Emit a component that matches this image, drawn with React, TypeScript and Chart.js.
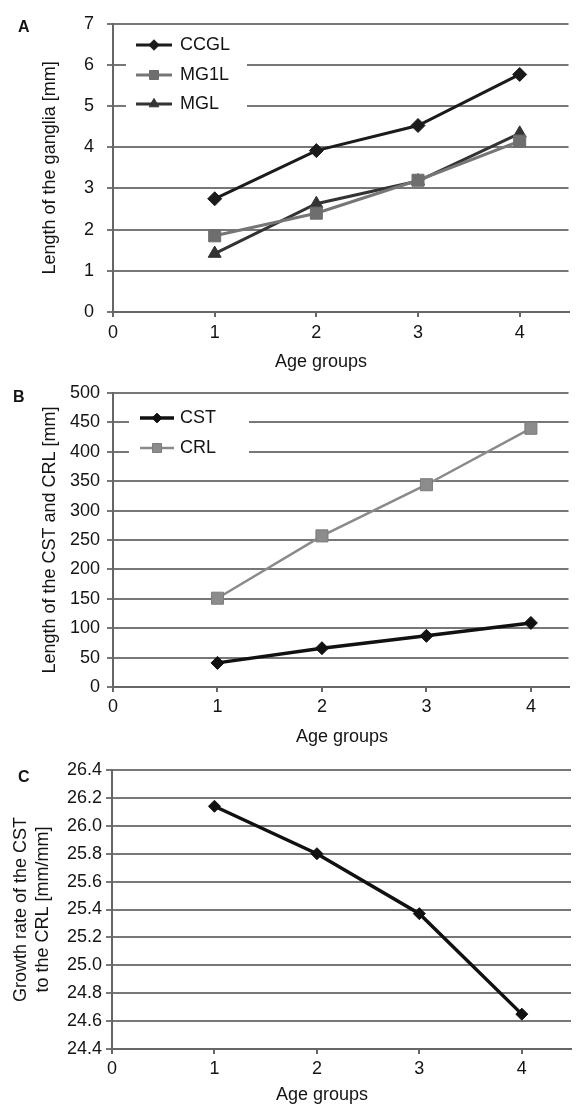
import React, { useEffect, useRef } from 'react';
import { Chart, registerables } from 'chart.js';
import { drawPoint } from 'chart.js/helpers';

Chart.register(...registerables);

// ---------- data ----------
const ageGroups = [1, 2, 3, 4];
const xTickValues = [0, 1, 2, 3, 4];
const xTitleText = 'Age groups';

// Panel A
const ccgl = [2.75, 3.92, 4.53, 5.77];
const mg1l = [1.85, 2.4, 3.2, 4.15];
const mgl = [1.42, 2.63, 3.18, 4.34];
const yTicksA = [0, 1, 2, 3, 4, 5, 6, 7];
const yTitleA = 'Length of the ganglia [mm]';

// Panel B
const cst = [41, 66, 87, 109];
const crl = [151, 257, 344, 440];
const yTicksB = [0, 50, 100, 150, 200, 250, 300, 350, 400, 450, 500];
const yTitleB = 'Length of the CST and CRL [mm]';

// Panel C
const growth = [26.14, 25.8, 25.37, 24.65];
const yTicksC = [24.4, 24.6, 24.8, 25.0, 25.2, 25.4, 25.6, 25.8, 26.0, 26.2, 26.4];
const yTitleC = ['Growth rate of the CST', 'to the CRL [mm/mm]'];

// ---------- styling ----------
const FONT = '"Liberation Sans Narrow", "Arial Narrow", "Liberation Sans", Arial, sans-serif';
const TICK_SIZE = 18;
const TITLE_SIZE = 18;
const TEXT = '#141414';
const GRID = '#777777';
const AXIS = '#666666';

const pts = (ys: number[]) => ageGroups.map((x, i) => ({ x, y: ys[i] }));

const extrasPlugin = {
  id: 'extras',
  afterDatasetsDraw(chart: any, _args: any, opts: any) {
    const ctx = chart.ctx as CanvasRenderingContext2D;
    ctx.save();
    if (opts.legend) {
      const L = opts.legend;
      ctx.fillStyle = '#ffffff';
      ctx.fillRect(L.x, L.y, L.w, L.h);
      chart.data.datasets.forEach((ds: any, i: number) => {
        const y = L.rows[i];
        ctx.strokeStyle = ds.borderColor;
        ctx.lineWidth = ds.borderWidth;
        ctx.beginPath();
        ctx.moveTo(L.lineX0, y);
        ctx.lineTo(L.lineX1, y);
        ctx.stroke();
        ctx.fillStyle = ds.pointBackgroundColor;
        ctx.strokeStyle = ds.pointBorderColor;
        ctx.lineWidth = 1;
        drawPoint(ctx, { pointStyle: ds.pointStyle, radius: ds.pointRadius * L.markerScale, rotation: 0, borderWidth: 1 } as any, (L.lineX0 + L.lineX1) / 2, y);
        ctx.fillStyle = TEXT;
        ctx.font = `${TITLE_SIZE}px ${FONT}`;
        ctx.textAlign = 'left';
        ctx.textBaseline = 'middle';
        ctx.fillText(ds.label, L.textX, y);
      });
    }
    if (opts.xTitle) {
      ctx.fillStyle = TEXT;
      ctx.font = `${TITLE_SIZE}px ${FONT}`;
      ctx.textAlign = 'center';
      ctx.textBaseline = 'middle';
      ctx.fillText(opts.xTitle.text, opts.xTitle.x, opts.xTitle.y);
    }
    if (opts.letter) {
      ctx.fillStyle = TEXT;
      ctx.font = `bold 16px "Liberation Sans", Arial, sans-serif`;
      ctx.textAlign = 'left';
      ctx.textBaseline = 'alphabetic';
      ctx.fillText(opts.letter.text, opts.letter.x, opts.letter.y);
    }
    ctx.restore();
  },
};

function makeConfig(p: any): any {
  return {
    type: 'line',
    data: { datasets: p.datasets },
    options: {
      responsive: false,
      animation: false,
      devicePixelRatio: 1,
      events: [],
      layout: { padding: { top: p.padTop, left: 0, right: 0, bottom: 0 } },
      plugins: { legend: { display: false }, tooltip: { enabled: false }, extras: p.extras },
      scales: {
        x: {
          type: 'linear',
          min: 0,
          max: p.xMax,
          afterBuildTicks: (s: any) => { s.ticks = xTickValues.map((v) => ({ value: v })); },
          afterFit: (s: any) => { s.height = p.xHeight; },
          ticks: { font: { family: FONT, size: TICK_SIZE }, color: TEXT, padding: p.xTickPad, maxRotation: 0, autoSkip: false, callback: (v: any) => String(v) },
          grid: { drawOnChartArea: false, drawTicks: true, tickLength: 5, color: AXIS, lineWidth: 2 },
          border: { display: true, color: AXIS, width: 2 },
        },
        y: {
          type: 'linear',
          min: p.yTicks[0],
          max: p.yTicks[p.yTicks.length - 1],
          afterBuildTicks: (s: any) => { s.ticks = p.yTicks.map((v: number) => ({ value: v })); },
          afterFit: (s: any) => { s.width = p.yWidth; },
          ticks: { font: { family: FONT, size: TICK_SIZE }, color: TEXT, padding: p.yTickPad, autoSkip: false, callback: p.yFmt },
          grid: { color: GRID, lineWidth: 2, drawTicks: true, tickLength: 6 },
          border: { display: true, color: AXIS, width: 2 },
          title: {
            display: true,
            text: p.yTitle,
            color: TEXT,
            font: { family: FONT, size: TITLE_SIZE, lineHeight: p.yTitleLH },
            padding: { top: p.yTitlePad, bottom: 0 },
          },
        },
      },
    },
    plugins: [extrasPlugin],
  };
}

const W = 578;
const TOP_A = 0, H_A = 375;
const TOP_B = 375, H_B = 375;
const TOP_C = 750, H_C = 356;

export default function App() {
  const refA = useRef<HTMLCanvasElement>(null);
  const refB = useRef<HTMLCanvasElement>(null);
  const refC = useRef<HTMLCanvasElement>(null);

  useEffect(() => {
    const cfgA = makeConfig({
      datasets: [
        { label: 'CCGL', data: pts(ccgl), borderColor: '#1b1b1b', borderWidth: 3, pointStyle: 'rectRot', pointRadius: 7, pointBackgroundColor: '#1b1b1b', pointBorderColor: '#1b1b1b', pointBorderWidth: 1, tension: 0 },
        { label: 'MG1L', data: pts(mg1l), borderColor: '#767676', borderWidth: 3, pointStyle: 'rect', pointRadius: 8.5, pointBackgroundColor: '#6e6e6e', pointBorderColor: '#6e6e6e', pointBorderWidth: 1, tension: 0 },
        { label: 'MGL', data: pts(mgl), borderColor: '#333333', borderWidth: 3, pointStyle: 'triangle', pointRadius: 7.5, pointBackgroundColor: '#333333', pointBorderColor: '#333333', pointBorderWidth: 1, tension: 0 },
      ],
      padTop: 17 - TOP_A,
      xMax: 4.48,
      xHeight: H_A - (312 - TOP_A),
      xTickPad: 5,
      yTicks: yTicksA,
      yWidth: 113,
      yTickPad: 13,
      yFmt: (v: any) => String(v),
      yTitle: yTitleA,
      yTitleLH: 1.2,
      yTitlePad: 39,
      extras: {
        letter: { text: 'A', x: 18, y: 32 - TOP_A },
        xTitle: { text: xTitleText, x: 321, y: 362 - TOP_A },
        legend: { x: 126, y: 27, w: 121, h: 91, lineX0: 136, lineX1: 172, textX: 180, rows: [45, 75, 104], markerScale: 0.75 },
      },
    });
    const cfgB = makeConfig({
      datasets: [
        { label: 'CST', data: pts(cst), borderColor: '#111111', borderWidth: 3.5, pointStyle: 'rectRot', pointRadius: 6.5, pointBackgroundColor: '#111111', pointBorderColor: '#111111', pointBorderWidth: 1, tension: 0 },
        { label: 'CRL', data: pts(crl), borderColor: '#8a8a8a', borderWidth: 2.5, pointStyle: 'rect', pointRadius: 8.5, pointBackgroundColor: '#8c8c8c', pointBorderColor: '#7c7c7c', pointBorderWidth: 1, tension: 0 },
      ],
      padTop: 393 - TOP_B,
      xMax: 4.36,
      xHeight: H_B - (687 - TOP_B),
      xTickPad: 4,
      yTicks: yTicksB,
      yWidth: 113,
      yTickPad: 7,
      yFmt: (v: any) => String(v),
      yTitle: yTitleB,
      yTitleLH: 1.2,
      yTitlePad: 39,
      extras: {
        letter: { text: 'B', x: 13, y: 402 - TOP_B },
        xTitle: { text: xTitleText, x: 342, y: 737 - TOP_B },
        legend: { x: 129, y: 398 - TOP_B, w: 120, h: 72, lineX0: 140, lineX1: 174, textX: 180, rows: [418 - TOP_B, 448 - TOP_B], markerScale: 0.75 },
      },
    });
    const cfgC = makeConfig({
      datasets: [
        { label: 'Growth rate', data: pts(growth), borderColor: '#111111', borderWidth: 3.5, pointStyle: 'rectRot', pointRadius: 6, pointBackgroundColor: '#111111', pointBorderColor: '#111111', pointBorderWidth: 1, tension: 0 },
      ],
      padTop: 770 - TOP_C,
      xMax: 4.48,
      xHeight: H_C - (1049 - TOP_C),
      xTickPad: 4,
      yTicks: yTicksC,
      yWidth: 112,
      yTickPad: 4,
      yFmt: (v: any) => Number(v).toFixed(1),
      yTitle: yTitleC,
      yTitleLH: 1.25,
      yTitlePad: 9.5,
      extras: {
        letter: { text: 'C', x: 18, y: 782 - TOP_C },
        xTitle: { text: xTitleText, x: 322, y: 1095 - TOP_C },
      },
    });
    const charts = [
      new Chart(refA.current as HTMLCanvasElement, cfgA),
      new Chart(refB.current as HTMLCanvasElement, cfgB),
      new Chart(refC.current as HTMLCanvasElement, cfgC),
    ];
    return () => charts.forEach((c) => c.destroy());
  }, []);

  const cstyle = (top: number, h: number): React.CSSProperties => ({ position: 'absolute', left: 0, top, width: W, height: h, display: 'block' });

  return (
    <div style={{ position: 'absolute', left: 0, top: 0, width: W, height: 1106, background: '#ffffff', overflow: 'hidden' }}>
      <canvas ref={refA} width={W} height={H_A} style={cstyle(TOP_A, H_A)} />
      <canvas ref={refB} width={W} height={H_B} style={cstyle(TOP_B, H_B)} />
      <canvas ref={refC} width={W} height={H_C} style={cstyle(TOP_C, H_C)} />
    </div>
  );
}
